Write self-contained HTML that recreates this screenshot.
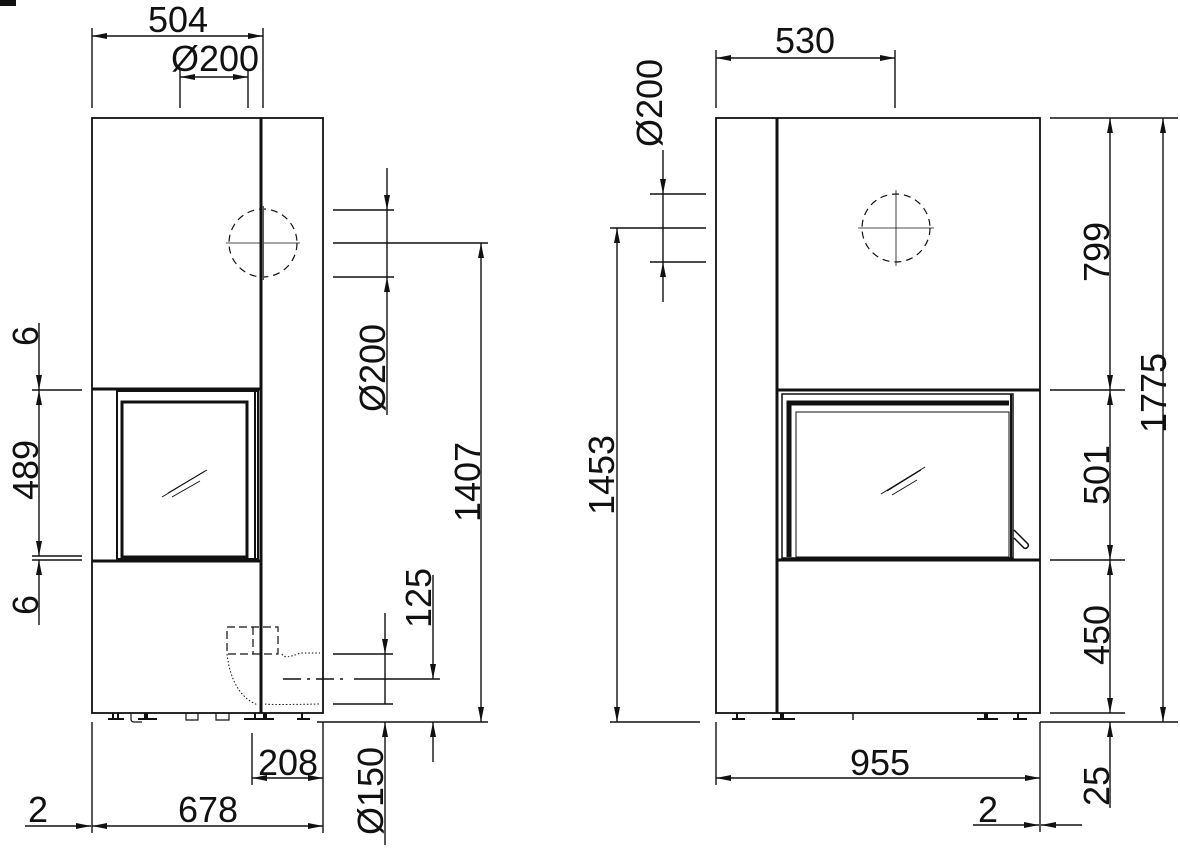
<!DOCTYPE html>
<html><head><meta charset="utf-8"><style>
html,body{margin:0;padding:0;background:#fff}
svg{display:block}
text{font-family:"Liberation Sans",Arial,sans-serif;font-size:36px;fill:#111}
</style></head><body>
<svg width="1180" height="859" viewBox="0 0 1180 859" xmlns="http://www.w3.org/2000/svg">
<defs>
<marker id="a" markerWidth="16" markerHeight="8" refX="15" refY="4" orient="auto" markerUnits="userSpaceOnUse"><path d="M0,1 L15,4 L0,7 Z" fill="#111"/></marker>
</defs>
<rect x="0" y="0" width="16" height="6" fill="#111"/>
<g stroke="#111" fill="none" stroke-width="1.4">
<!-- LEFT VIEW -->
<rect x="92" y="118" width="231" height="595" stroke-width="1.8"/>
<line x1="261" y1="118" x2="261" y2="713" stroke-width="3"/>
<line x1="92" y1="389" x2="261" y2="389" stroke-width="3"/>
<line x1="92" y1="561" x2="261" y2="561" stroke-width="3"/>
<rect x="117" y="391" width="141" height="168" stroke-width="2"/>
<rect x="122" y="402" width="125" height="155" stroke-width="3"/>
<line x1="255" y1="391" x2="255" y2="559" stroke-width="2"/>
<g stroke-width="1"><line x1="162" y1="497" x2="207" y2="470"/><line x1="168" y1="493" x2="205" y2="471"/><line x1="172" y1="497" x2="200" y2="481"/></g>
<circle cx="263" cy="243" r="34" stroke-dasharray="7,5" stroke-width="1.2"/>
<line x1="226" y1="243" x2="300" y2="243" stroke-width="0.8"/>
<line x1="263" y1="206" x2="263" y2="280" stroke-width="2" stroke="#555"/>
<g stroke-dasharray="8,4" stroke-width="1.2"><rect x="227" y="627" width="51" height="27"/><line x1="253" y1="627" x2="253" y2="654"/></g>
<g stroke-dasharray="1.5,2" stroke-width="1"><path d="M227,654 Q232,695 258,705"/><path d="M282,654 Q284,660 300,653 L320,653"/><path d="M265,704 Q270,705 320,704"/></g>
<line x1="283" y1="679" x2="345" y2="679" stroke-dasharray="18,6,3,6"/>
<g stroke-width="2"><line x1="108" y1="719" x2="124" y2="719"/><line x1="113" y1="713" x2="113" y2="719"/><line x1="118" y1="713" x2="118" y2="719"/>
<line x1="138" y1="719" x2="157" y2="719"/><line x1="146" y1="713" x2="146" y2="719" stroke-width="4"/>
<line x1="244" y1="719" x2="274" y2="719"/><line x1="255" y1="713" x2="255" y2="719"/><line x1="265" y1="713" x2="265" y2="719" stroke-width="4"/>
<line x1="297" y1="719" x2="310" y2="719"/><line x1="302" y1="713" x2="302" y2="719"/></g>
<g stroke-width="1.2"><path d="M131,713 v6 q0,3 3,3 h8"/><path d="M186,713 v7 h12 v-7"/><path d="M216,713 v7 h13 v-7"/></g>
<line x1="92" y1="28" x2="92" y2="108"/><line x1="263" y1="28" x2="263" y2="108"/>
<line x1="177" y1="36" x2="92" y2="36" marker-end="url(#a)"/><line x1="177" y1="36" x2="263" y2="36" marker-end="url(#a)"/>
<line x1="180" y1="70" x2="180" y2="108"/><line x1="248" y1="70" x2="248" y2="108"/>
<line x1="214" y1="77" x2="180" y2="77" marker-end="url(#a)"/><line x1="214" y1="77" x2="248" y2="77" marker-end="url(#a)"/>
<line x1="333" y1="210" x2="394" y2="210"/><line x1="333" y1="243" x2="488" y2="243"/><line x1="333" y1="277" x2="394" y2="277"/>
<line x1="387" y1="168" x2="387" y2="210" marker-end="url(#a)"/><line x1="387" y1="415" x2="387" y2="277" marker-end="url(#a)"/>
<line x1="387" y1="210" x2="387" y2="277"/>
<line x1="481" y1="480" x2="481" y2="243" marker-end="url(#a)"/><line x1="481" y1="480" x2="481" y2="722" marker-end="url(#a)"/>
<line x1="317" y1="722" x2="488" y2="722"/>
<line x1="32" y1="390" x2="82" y2="390"/><line x1="32" y1="556" x2="82" y2="556"/><line x1="32" y1="560" x2="82" y2="560"/>
<line x1="39" y1="323" x2="39" y2="390" marker-end="url(#a)"/><line x1="39" y1="470" x2="39" y2="390" marker-end="url(#a)"/>
<line x1="39" y1="470" x2="39" y2="556" marker-end="url(#a)"/><line x1="39" y1="625" x2="39" y2="560" marker-end="url(#a)"/>
<line x1="333" y1="654" x2="393" y2="654"/><line x1="354" y1="679" x2="440" y2="679"/><line x1="333" y1="704" x2="393" y2="704"/>
<line x1="385" y1="613" x2="385" y2="654" marker-end="url(#a)"/><line x1="385" y1="654" x2="385" y2="704"/>
<line x1="385" y1="845" x2="385" y2="722" marker-end="url(#a)"/>
<line x1="433" y1="575" x2="433" y2="679" marker-end="url(#a)"/><line x1="433" y1="762" x2="433" y2="722" marker-end="url(#a)"/>
<line x1="252" y1="733" x2="252" y2="785"/><line x1="323" y1="722" x2="323" y2="833"/><line x1="92" y1="722" x2="92" y2="833"/>
<line x1="288" y1="778" x2="252" y2="778" marker-end="url(#a)"/><line x1="288" y1="778" x2="323" y2="778" marker-end="url(#a)"/>
<line x1="208" y1="826" x2="92" y2="826" marker-end="url(#a)"/><line x1="208" y1="826" x2="323" y2="826" marker-end="url(#a)"/>
<line x1="25" y1="826" x2="91" y2="826" marker-end="url(#a)"/>

<!-- RIGHT VIEW -->
<rect x="716" y="118" width="324" height="595" stroke-width="1.8"/>
<line x1="777" y1="118" x2="777" y2="713" stroke-width="3"/>
<line x1="777" y1="390" x2="1040" y2="390" stroke-width="3"/>
<line x1="777" y1="560" x2="1040" y2="560" stroke-width="3"/>
<rect x="782" y="394" width="231" height="164" stroke-width="1.5"/>
<path d="M1009,403 H789 V557" stroke-width="5"/>
<line x1="1011" y1="394" x2="1011" y2="558" stroke-width="2"/>
<rect x="796" y="412" width="213" height="145" stroke-width="1"/>
<path d="M1014,530 l14,14 a3,3 0 0 1 -4,4 l-10,-10" stroke-width="1.5"/>
<g stroke-width="1"><line x1="881" y1="494" x2="925" y2="467"/><line x1="887" y1="491" x2="921" y2="470"/><line x1="892" y1="495" x2="917" y2="480"/></g>
<circle cx="896" cy="228" r="34" stroke-dasharray="7,5" stroke-width="1.2"/>
<line x1="858" y1="228" x2="934" y2="228" stroke-width="0.8"/><line x1="896" y1="190" x2="896" y2="266" stroke-width="0.8"/>
<g stroke-width="2"><line x1="732" y1="719" x2="745" y2="719"/><line x1="737" y1="713" x2="737" y2="719"/><line x1="772" y1="719" x2="795" y2="719"/><line x1="782" y1="713" x2="782" y2="719" stroke-width="4"/>
<line x1="977" y1="719" x2="998" y2="719"/><line x1="986" y1="713" x2="986" y2="719" stroke-width="4"/><line x1="1013" y1="719" x2="1027" y2="719"/><line x1="1018" y1="713" x2="1018" y2="719"/></g>
<line x1="853" y1="713" x2="853" y2="720"/>
<line x1="716" y1="50" x2="716" y2="108"/><line x1="895" y1="50" x2="895" y2="108"/>
<line x1="805" y1="58" x2="716" y2="58" marker-end="url(#a)"/><line x1="805" y1="58" x2="895" y2="58" marker-end="url(#a)"/>
<line x1="650" y1="194" x2="706" y2="194"/><line x1="610" y1="228" x2="706" y2="228"/><line x1="650" y1="262" x2="706" y2="262"/>
<line x1="663" y1="150" x2="663" y2="194" marker-end="url(#a)"/><line x1="663" y1="194" x2="663" y2="262"/><line x1="663" y1="302" x2="663" y2="262" marker-end="url(#a)"/>
<line x1="617" y1="480" x2="617" y2="228" marker-end="url(#a)"/><line x1="617" y1="480" x2="617" y2="722" marker-end="url(#a)"/>
<line x1="610" y1="722" x2="700" y2="722"/>
<line x1="1050" y1="118" x2="1178" y2="118"/><line x1="1050" y1="390" x2="1125" y2="390"/><line x1="1050" y1="560" x2="1125" y2="560"/><line x1="1050" y1="713" x2="1125" y2="713"/><line x1="1040" y1="722" x2="1178" y2="722"/>
<line x1="1110" y1="250" x2="1110" y2="118" marker-end="url(#a)"/><line x1="1110" y1="250" x2="1110" y2="390" marker-end="url(#a)"/>
<line x1="1110" y1="475" x2="1110" y2="390" marker-end="url(#a)"/><line x1="1110" y1="475" x2="1110" y2="560" marker-end="url(#a)"/>
<line x1="1110" y1="635" x2="1110" y2="560" marker-end="url(#a)"/><line x1="1110" y1="635" x2="1110" y2="713" marker-end="url(#a)"/>
<line x1="1110" y1="808" x2="1110" y2="722" marker-end="url(#a)"/>
<line x1="1163" y1="420" x2="1163" y2="118" marker-end="url(#a)"/><line x1="1163" y1="420" x2="1163" y2="722" marker-end="url(#a)"/>
<line x1="716" y1="722" x2="716" y2="785"/><line x1="1040" y1="722" x2="1040" y2="832"/>
<line x1="880" y1="778" x2="716" y2="778" marker-end="url(#a)"/><line x1="880" y1="778" x2="1040" y2="778" marker-end="url(#a)"/>
<line x1="973" y1="825" x2="1039" y2="825" marker-end="url(#a)"/><line x1="1082" y1="825" x2="1041" y2="825" marker-end="url(#a)"/>
</g>
<text x="178" y="32" text-anchor="middle">504</text>
<text x="215" y="71" text-anchor="middle">Ø200</text>
<text transform="translate(385,368) rotate(-90)" text-anchor="middle">Ø200</text>
<text transform="translate(480,482) rotate(-90)" text-anchor="middle">1407</text>
<text transform="translate(38,336) rotate(-90)" text-anchor="middle">6</text>
<text transform="translate(38,470) rotate(-90)" text-anchor="middle">489</text>
<text transform="translate(38,605) rotate(-90)" text-anchor="middle">6</text>
<text transform="translate(431,598) rotate(-90)" text-anchor="middle">125</text>
<text transform="translate(383,791) rotate(-90)" text-anchor="middle">Ø150</text>
<text x="288" y="775" text-anchor="middle">208</text>
<text x="208" y="822" text-anchor="middle">678</text>
<text x="38" y="822" text-anchor="middle">2</text>
<text x="805" y="53" text-anchor="middle">530</text>
<text transform="translate(662,103) rotate(-90)" text-anchor="middle">Ø200</text>
<text transform="translate(614,475) rotate(-90)" text-anchor="middle">1453</text>
<text transform="translate(1109,252) rotate(-90)" text-anchor="middle">799</text>
<text transform="translate(1109,475) rotate(-90)" text-anchor="middle">501</text>
<text transform="translate(1109,635) rotate(-90)" text-anchor="middle">450</text>
<text transform="translate(1109,786) rotate(-90)" text-anchor="middle">25</text>
<text transform="translate(1166,393) rotate(-90)" text-anchor="middle">1775</text>
<text x="880" y="775" text-anchor="middle">955</text>
<text x="988" y="822" text-anchor="middle">2</text>
</svg>
</body></html>
